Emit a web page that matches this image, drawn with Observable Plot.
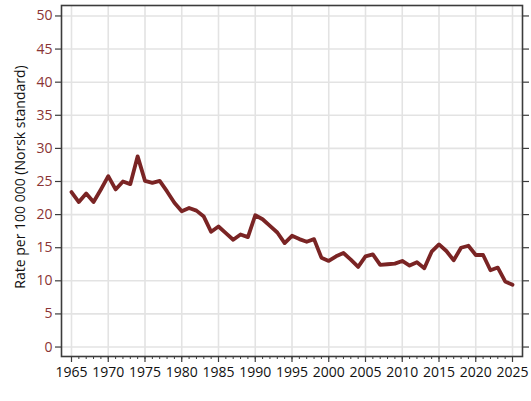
<!DOCTYPE html>
<html><head><meta charset="utf-8">
<script src="https://cdn.jsdelivr.net/npm/d3@7"></script>
<script src="https://cdn.jsdelivr.net/npm/@observablehq/plot@0.6"></script>
<style>body{margin:0;background:#fff} #chart svg{display:block}</style>
</head><body><div id="chart"></div>
<script>
const years = [1965,1966,1967,1968,1969,1970,1971,1972,1973,1974,1975,1976,1977,1978,1979,1980,1981,1982,1983,1984,1985,1986,1987,1988,1989,1990,1991,1992,1993,1994,1995,1996,1997,1998,1999,2000,2001,2002,2003,2004,2005,2006,2007,2008,2009,2010,2011,2012,2013,2014,2015,2016,2017,2018,2019,2020,2021,2022,2023,2024,2025];
const rates = [23.4,21.9,23.2,21.9,23.8,25.8,23.8,25.0,24.6,28.8,25.1,24.8,25.1,23.5,21.8,20.5,21.0,20.6,19.7,17.4,18.2,17.2,16.2,17.0,16.6,19.9,19.3,18.3,17.3,15.7,16.8,16.3,15.9,16.3,13.5,13.0,13.7,14.2,13.2,12.1,13.7,14.0,12.4,12.5,12.6,13.0,12.3,12.8,11.9,14.4,15.5,14.5,13.1,15.0,15.3,13.9,13.9,11.6,12.0,9.9,9.4];
const xTickLabels = [1965,1970,1975,1980,1985,1990,1995,2000,2005,2010,2015,2020,2025];
const yTickLabels = [0,5,10,15,20,25,30,35,40,45,50];
const yTitle = "Rate per 100 000 (Norsk standard)";

const data = years.map((year, i) => ({year, rate: rates[i]}));
const lineColor = "#7a2424";
const axisColor = "#3c3c3c";
const gridColor = "#e3e3e3";
const noLabel = () => "";
const fs = 14;

const chart = Plot.plot({
  width: 531,
  height: 401,
  marginLeft: 61,
  marginRight: 9,
  marginTop: 5,
  marginBottom: 45,
  style: {fontFamily: "'Open Sans', sans-serif", fontSize: "14px", background: "#fff"},
  x: {domain: [1963.64, 2026.36], axis: null},
  y: {domain: [-1.43, 51.58], axis: null},
  marks: [
    Plot.gridX(xTickLabels, {stroke: gridColor, strokeOpacity: 1, strokeWidth: 1.6}),
    Plot.gridY(yTickLabels, {stroke: gridColor, strokeOpacity: 1, strokeWidth: 1.6}),
    Plot.axisY(yTickLabels, {anchor: "left", tickSize: 6, tickPadding: 3, stroke: axisColor, fill: "#8a3434", fontSize: fs, label: null, strokeWidth: 1.2}),
    Plot.axisY(yTickLabels, {anchor: "right", tickSize: 6, tickFormat: noLabel, stroke: axisColor, label: null, strokeWidth: 1.2}),
    Plot.axisX(xTickLabels, {anchor: "bottom", tickSize: 6, tickPadding: 5, tickFormat: d => String(d), stroke: axisColor, fill: "#111", fontSize: fs, label: null, strokeWidth: 1.2}),
    Plot.axisX(years, {anchor: "bottom", tickSize: 3, tickFormat: noLabel, stroke: axisColor, label: null, strokeWidth: 1}),
    Plot.frame({stroke: axisColor, strokeWidth: 1.6}),
    Plot.line(data, {x: "year", y: "rate", stroke: lineColor, strokeWidth: 3.8, strokeLinejoin: "round", strokeLinecap: "round"}),
    Plot.text([yTitle], {frameAnchor: "left", textAnchor: "middle", rotate: -90, dx: -41, dy: -4, fill: "#111", fontSize: fs})
  ]
});
document.getElementById("chart").append(chart);
</script>
</body></html>
